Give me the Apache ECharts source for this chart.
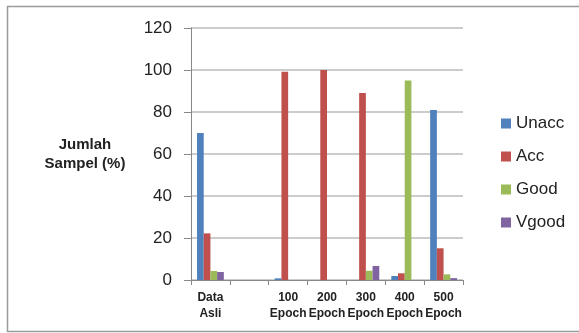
<!DOCTYPE html>
<html><head><meta charset="utf-8">
<script src="https://cdn.jsdelivr.net/npm/echarts@6/dist/echarts.min.js"></script>
<style>html,body{margin:0;padding:0;background:#fff}#c{width:579px;height:333px}</style>
</head><body><div id="c"></div>
<script>
const categories = ["Data\nAsli", "", "100\nEpoch", "200\nEpoch", "300\nEpoch", "400\nEpoch", "500\nEpoch"];
const unacc = [70, 0, 0.8, 0, 0, 1.9, 81];
const acc   = [22.2, 0, 99.2, 100, 89, 3.2, 15.1];
const good  = [4.3, 0, 0, 0, 4.4, 95, 2.7];
const vgood = [3.8, 0, 0, 0, 6.7, 0, 0.9];
const yTicks = [0, 20, 40, 60, 80, 100, 120];

const chart = echarts.init(document.getElementById('c'));
const font = 'Liberation Sans, Arial, sans-serif';
function s(name, data, color) {
  return { name, type: 'bar', data, itemStyle: { color }, barGap: '0%', barCategoryGap: '31%' };
}
chart.setOption({
  animation: false,
  graphic: [{ type: 'rect', shape: { x: 7.5, y: 6.5, width: 600, height: 325 }, style: { fill: 'none', stroke: '#9a9a9a', lineWidth: 1.5 }, silent: true }],
  grid: { left: 191, right: 116, top: 28, bottom: 53 },
  legend: {
    orient: 'vertical', left: 496, top: 110, itemGap: 16, itemWidth: 10, itemHeight: 10,
    icon: 'rect', textStyle: { fontFamily: font, fontSize: 17, color: '#222' },
    data: ['Unacc', 'Acc', 'Good', 'Vgood']
  },
  xAxis: {
    type: 'category', data: categories,
    axisLine: { lineStyle: { color: '#888', width: 1 } },
    axisTick: { show: true, length: 5, lineStyle: { color: '#888' } },
    axisLabel: { interval: 0, fontFamily: font, fontSize: 12, fontWeight: 'bold', color: '#222', lineHeight: 16, margin: 10 }
  },
  yAxis: {
    type: 'value', min: yTicks[0], max: yTicks[yTicks.length - 1], interval: 20,
    name: 'Jumlah\nSampel (%)', nameLocation: 'middle', nameRotate: 0, nameGap: 106,
    nameTextStyle: { fontFamily: font, fontSize: 15, fontWeight: 'bold', color: '#222', align: 'center', verticalAlign: 'middle', lineHeight: 19, padding: [0, 0, 40, 0] },
    axisLine: { show: true, lineStyle: { color: '#888' } },
    axisTick: { show: true, inside: false, length: 7, lineStyle: { color: '#888' } },
    splitLine: { lineStyle: { color: '#bbb', width: 1.5 } },
    axisLabel: { fontFamily: font, fontSize: 17, color: '#222', margin: 19 }
  },
  series: [s('Unacc', unacc, '#4F81BD'), s('Acc', acc, '#C0504D'), s('Good', good, '#9BBB59'), s('Vgood', vgood, '#8064A2')]
});
</script></body></html>
